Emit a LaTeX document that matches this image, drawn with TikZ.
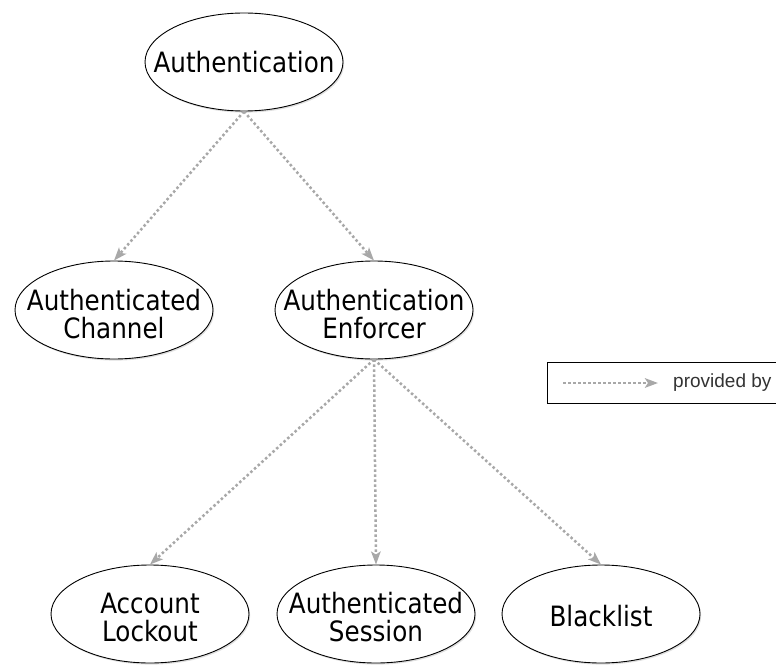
\documentclass[tikz,border=0pt]{standalone}
\usepackage{fontspec}
\newfontfamily\nodefont[FakeStretch=0.88]{DejaVu Sans}
\newfontfamily\legendfont{Liberation Sans}
\usetikzlibrary{arrows.meta,shadows,shapes.geometric}

\definecolor{linkgray}{HTML}{A8A8A8}
\definecolor{legendtext}{HTML}{333333}

\tikzset{concept/.style={draw,ellipse,fill=white,line width=0.9pt,inner sep=0pt,
    minimum width=198pt,minimum height=98pt,
    drop shadow={opacity=0.25,shadow xshift=1.2pt,shadow yshift=-1.6pt}}}
\tikzset{caption/.style={font=\nodefont\fontsize{28}{28}\selectfont,align=center,inner sep=0pt}}
\tikzset{providedby/.style={draw=linkgray,line width=2.5pt,dash pattern=on 2.5pt off 2.5pt,
    -{Stealth[length=13pt,width=9.5pt,inset=3pt]}}}

\begin{document}
\begin{tikzpicture}[x=1pt, y=-1pt]
	\useasboundingbox (0,0) rectangle (776,666);
	
	% concepts
	\node [concept, label={[caption]center:Authentication}] (auth) at (244,62) {};
	\node [concept, label={[caption, yshift=-4pt]center:Authenticated\\Channel}] (channel) at (114,310) {};
	\node [concept, label={[caption, yshift=-4pt]center:Authentication\\Enforcer}] (enforcer) at (374,310) {};
	\node [concept, label={[caption, yshift=-3pt]center:Account\\Lockout}] (lockout) at (150,614) {};
	\node [concept, label={[caption, yshift=-3pt]center:Authenticated\\Session}] (session) at (376,614) {};
	\node [concept, label={[caption, yshift=-2pt]center:Blacklist}] (blacklist) at (601,614) {};
	
	% authentication -> children
	\foreach \c in {channel, enforcer}
	  \draw [providedby] (auth.south) -- (\c.north);
	
	% enforcer -> children
	\foreach \c in {lockout, session, blacklist}
	  \draw [providedby] (enforcer.south) -- (\c.north);
	
	% legend
	\node [draw, line width=0.9pt, anchor=north west, inner sep=0pt,
	  minimum width=230pt, minimum height=41pt] (legend) at (547,362) {};
	\coordinate (legendtail) at (563,383);
	\coordinate (legendtip) at (658,383);
	\draw [providedby] (legendtail) -- (legendtip);
	\node [font=\legendfont\fontsize{19}{22}\selectfont, text=legendtext,
	  anchor=west, inner sep=0pt] (legendlabel) at (673,383) {provided by};
	
\end{tikzpicture}
\end{document}
